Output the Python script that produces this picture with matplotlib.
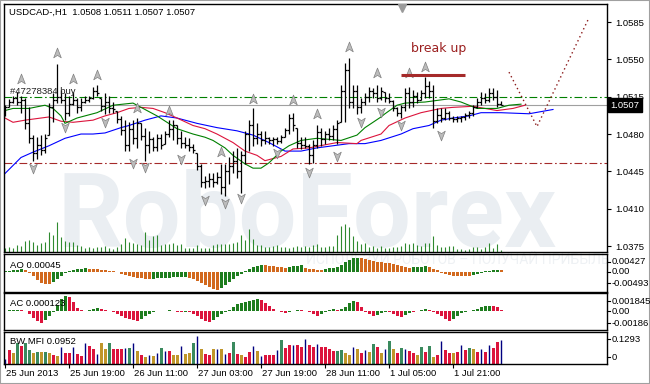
import numpy as np
import matplotlib.pyplot as plt
from matplotlib.path import Path
import matplotlib.transforms as mtransforms

W, H = 650, 384

# ---- USDCAD H1, bar 0 = 25 Jun 2013 00:00 ----
high = [1.0507, 1.0513, 1.0516, 1.0519, 1.0516, 1.0514, 1.0505, 1.0479, 1.0477, 1.0479,
        1.0480, 1.0509, 1.0518, 1.0546, 1.0521, 1.0518, 1.0516, 1.0519, 1.0514, 1.0514,
        1.0516, 1.0516, 1.0524, 1.0526, 1.0514, 1.0518, 1.0516, 1.0510, 1.0502, 1.0497,
        1.0493, 1.0491, 1.0493, 1.0495, 1.0490, 1.0486, 1.0483, 1.0477, 1.0480, 1.0480,
        1.0483, 1.0493, 1.0493, 1.0488, 1.0483, 1.0477, 1.0476, 1.0471, 1.0462, 1.0452,
        1.0441, 1.0443, 1.0443, 1.0444, 1.0452, 1.0452, 1.0458, 1.0464, 1.0467, 1.0464,
        1.0483, 1.0493, 1.0504, 1.0490, 1.0483, 1.0483, 1.0477, 1.0477, 1.0477, 1.0479,
        1.0486, 1.0499, 1.0500, 1.0486, 1.0477, 1.0477, 1.0471, 1.0474, 1.0488, 1.0486,
        1.0483, 1.0486, 1.0488, 1.0493, 1.0526, 1.0547, 1.0551, 1.0526, 1.0526, 1.0514,
        1.0518, 1.0524, 1.0523, 1.0526, 1.0524, 1.0519, 1.0518, 1.0512, 1.0505, 1.0507,
        1.0523, 1.0524, 1.0521, 1.0519, 1.0521, 1.0533, 1.0530, 1.0526, 1.0504, 1.0504,
        1.0504, 1.0502, 1.0497, 1.0497, 1.0497, 1.0500, 1.0502, 1.0507, 1.0514, 1.0519,
        1.0518, 1.0523, 1.0523, 1.0521, 1.0511]
low = [1.0497, 1.0505, 1.0509, 1.0507, 1.0500, 1.0485, 1.0472, 1.0455, 1.0457, 1.0460,
       1.0462, 1.0479, 1.0491, 1.0509, 1.0509, 1.0493, 1.0497, 1.0507, 1.0500, 1.0502,
       1.0509, 1.0510, 1.0513, 1.0516, 1.0502, 1.0499, 1.0500, 1.0500, 1.0490, 1.0479,
       1.0464, 1.0464, 1.0471, 1.0467, 1.0474, 1.0455, 1.0462, 1.0464, 1.0464, 1.0466,
       1.0471, 1.0477, 1.0474, 1.0471, 1.0467, 1.0467, 1.0464, 1.0462, 1.0446, 1.0430,
       1.0429, 1.0430, 1.0430, 1.0433, 1.0424, 1.0422, 1.0433, 1.0443, 1.0439, 1.0425,
       1.0452, 1.0464, 1.0469, 1.0471, 1.0469, 1.0471, 1.0471, 1.0469, 1.0471, 1.0472,
       1.0477, 1.0480, 1.0483, 1.0467, 1.0466, 1.0467, 1.0452, 1.0453, 1.0467, 1.0469,
       1.0471, 1.0474, 1.0474, 1.0471, 1.0491, 1.0491, 1.0504, 1.0504, 1.0499, 1.0500,
       1.0507, 1.0510, 1.0514, 1.0510, 1.0512, 1.0510, 1.0509, 1.0502, 1.0497, 1.0495,
       1.0502, 1.0504, 1.0505, 1.0509, 1.0512, 1.0514, 1.0514, 1.0486, 1.0490, 1.0491,
       1.0493, 1.0493, 1.0491, 1.0491, 1.0491, 1.0493, 1.0495, 1.0497, 1.0504, 1.0507,
       1.0509, 1.0510, 1.0512, 1.0505, 1.0507]
close = [1.0505, 1.0510, 1.0514, 1.0510, 1.0512, 1.0490, 1.0476, 1.0462, 1.0470, 1.0465,
         1.0476, 1.0505, 1.0512, 1.0515, 1.0512, 1.0500, 1.0508, 1.0512, 1.0505, 1.0510,
         1.0512, 1.0514, 1.0520, 1.0518, 1.0506, 1.0510, 1.0504, 1.0503, 1.0494, 1.0484,
         1.0470, 1.0485, 1.0476, 1.0490, 1.0478, 1.0470, 1.0475, 1.0468, 1.0476, 1.0470,
         1.0480, 1.0485, 1.0488, 1.0476, 1.0472, 1.0470, 1.0468, 1.0465, 1.0450, 1.0435,
         1.0436, 1.0438, 1.0435, 1.0440, 1.0430, 1.0445, 1.0450, 1.0455, 1.0445, 1.0460,
         1.0480, 1.0488, 1.0476, 1.0480, 1.0474, 1.0476, 1.0474, 1.0475, 1.0473, 1.0477,
         1.0484, 1.0495, 1.0488, 1.0472, 1.0470, 1.0469, 1.0460, 1.0470, 1.0482, 1.0475,
         1.0480, 1.0478, 1.0485, 1.0490, 1.0520, 1.0540, 1.0510, 1.0520, 1.0505, 1.0510,
         1.0515, 1.0520, 1.0518, 1.0514, 1.0520, 1.0514, 1.0511, 1.0504, 1.0500, 1.0505,
         1.0518, 1.0510, 1.0516, 1.0512, 1.0518, 1.0525, 1.0520, 1.0492, 1.0498, 1.0495,
         1.0500, 1.0495, 1.0494, 1.0495, 1.0496, 1.0498, 1.0500, 1.0505, 1.0510, 1.0514,
         1.0512, 1.0518, 1.0515, 1.0508, 1.0507]
first_open = 1.0500

volume = [400, 500, 400, 700, 600, 1100, 1200, 1000, 700, 900,
          1000, 2000, 1700, 3000, 1500, 1100, 1000, 1000, 700, 600,
          400, 500, 400, 500, 500, 600, 400, 300, 500, 800,
          1400, 1000, 900, 800, 700, 2000, 1200, 1600, 1700, 700,
          800, 800, 900, 700, 800, 400, 400, 400, 700, 400,
          400, 400, 700, 800, 800, 800, 800, 900, 1000, 1700,
          1200, 2300, 1300, 700, 700, 500, 500, 600, 700, 500,
          500, 400, 500, 600, 500, 600, 500, 700, 800, 500,
          500, 600, 600, 1700, 2600, 2800, 2500, 1600, 1100, 800,
          900, 500, 600, 400, 600, 400, 400, 500, 500, 600,
          900, 800, 900, 700, 600, 900, 950, 1600, 700, 500,
          500, 600, 600, 300, 300, 200, 300, 500, 500, 300,
          500, 900, 400, 800, 200]

# alligator-style lines (bar, price)
jaw_bar = [0, 4, 7, 11, 15, 19, 22, 25, 29, 31, 35, 39, 43, 48, 53, 58, 62, 66, 70, 74,
           78, 82, 86, 90, 94, 99, 102, 106, 109, 112, 116, 119, 124, 131, 137]
jaw = [1.0443, 1.0458, 1.0463, 1.0469, 1.0476, 1.0480, 1.0480, 1.0481, 1.0486, 1.0488,
       1.0493, 1.0497, 1.0495, 1.0490, 1.0486, 1.0483, 1.0479, 1.0472, 1.0464, 1.0464,
       1.0467, 1.0469, 1.0471, 1.0471, 1.0474, 1.0480, 1.0485, 1.0488, 1.0493, 1.0495,
       1.0497, 1.0500, 1.0500, 1.0499, 1.0503]
teeth_bar = [0, 2, 5, 9, 11, 14, 17, 22, 25, 28, 31, 34, 37, 40, 43, 47, 50, 53, 57, 60,
             63, 65, 69, 72, 76, 83, 88, 89, 94, 96, 100, 104, 109, 112, 117, 120, 123, 127, 130]
teeth = [1.0495, 1.0491, 1.0493, 1.0495, 1.0496, 1.0492, 1.0491, 1.0493, 1.0497, 1.0500,
         1.0504, 1.0505, 1.0504, 1.0500, 1.0495, 1.0488, 1.0485, 1.0480, 1.0472, 1.0464,
         1.0460, 1.0455, 1.0459, 1.0466, 1.0467, 1.0472, 1.0471, 1.0474, 1.0480, 1.0488,
         1.0495, 1.0500, 1.0504, 1.0505, 1.0506, 1.0504, 1.0502, 1.0504, 1.0507]
lips_bar = [0, 2, 6, 10, 12, 14, 15, 18, 23, 27, 32, 34, 38, 43, 47, 50, 52, 55, 57, 60,
            62, 64, 66, 69, 71, 74, 78, 84, 88, 90, 94, 95, 98, 100, 105, 111, 114, 118, 123, 126, 129]
lips = [1.0502, 1.0504, 1.0504, 1.0507, 1.0504, 1.0497, 1.0490, 1.0495, 1.0500, 1.0507,
        1.0509, 1.0505, 1.0497, 1.0485, 1.0480, 1.0477, 1.0474, 1.0467, 1.0460, 1.0452,
        1.0448, 1.0448, 1.0453, 1.0464, 1.0469, 1.0474, 1.0476, 1.0474, 1.0479, 1.0486,
        1.0496, 1.0499, 1.0507, 1.0509, 1.0510, 1.0513, 1.0510, 1.0504, 1.0504, 1.0507, 1.0508]

frac_up_bar = [4, 13, 17, 23, 33, 41, 54, 62, 72, 78, 86, 93, 101, 105]
frac_up = [1.0532, 1.0556, 1.0532, 1.0535, 1.0504, 1.0502, 1.0463, 1.0513, 1.0512, 1.0499,
           1.0562, 1.0537, 1.0537, 1.0543]
frac_dn_bar = [7, 15, 25, 32, 35, 44, 50, 55, 59, 68, 76, 83, 89, 94, 99, 109]
frac_dn = [1.0448, 1.0487, 1.0491, 1.0453, 1.0449, 1.0457, 1.0418, 1.0415, 1.0420, 1.0462,
           1.0444, 1.0459, 1.0491, 1.0501, 1.0488, 1.0479]

buy_level = 1.0515
stop_level = 1.0453
bid = 1.0507
break_bars = [99, 115]
break_level = 1.0535
path_bar = [126, 133, 146]
path_price = [1.0538, 1.0487, 1.0589]
price_ticks = [1.0585, 1.0550, 1.0515, 1.0480, 1.0445, 1.0410, 1.0375]

# Awesome oscillator, g = rising, o = falling
ao = [0.00012, 0.00024, 0.00029, 0.00048, 0.00061, 0.00036,
      -0.00024, -0.00097, -0.00194, -0.00266, -0.00290, -0.00303,
      -0.00242, -0.00169, -0.00097, -0.00036, 0.00024, 0.00048, 0.00061, 0.00073, 0.00077,
      0.00073, 0.00068, 0.00061, 0.00048, 0.00036, 0.00024, 0.00012, -0.00012,
      -0.00048, -0.00073, -0.00097, -0.00121, -0.00145, -0.00157, -0.00169, -0.00182,
      -0.00169, -0.00165, -0.00157, -0.00152, -0.00145, -0.00140, -0.00136, -0.00133, -0.00128,
      -0.00145, -0.00182, -0.00218, -0.00266, -0.00315, -0.00363, -0.00411, -0.00436,
      -0.00387, -0.00315, -0.00242, -0.00169, -0.00097, -0.00048, 0.00012, 0.00073, 0.00121,
      0.00145, 0.00169,
      0.00157, 0.00145, 0.00133, 0.00121, 0.00109, 0.00097,
      0.00121, 0.00133, 0.00145, 0.00157,
      0.00097, 0.00073, 0.00061, 0.00048, 0.00044,
      0.00073, 0.00085, 0.00097, 0.00109, 0.00169, 0.00230, 0.00290, 0.00327, 0.00339,
      0.00327, 0.00315, 0.00290, 0.00266, 0.00242, 0.00230, 0.00218, 0.00206, 0.00194,
      0.00169, 0.00145, 0.00121, 0.00097,
      0.00104, 0.00111, 0.00121, 0.00126,
      0.00109, 0.00073, 0.00036, -0.00024, -0.00061, -0.00085, -0.00097, -0.00102,
      -0.00104, -0.00104, -0.00106,
      -0.00085, -0.00048, -0.00024, 0.00007, 0.00019, 0.00029, 0.00046,
      0.00045]
ao_col = ("gggggo" "oooooo" "ggggggggg" "oooooooo" "oooooooo" "ggggggggg" "oooooooo"
          "ggggggggggg" "oooooo" "gggg" "ooooo" "ggggggggg" "ooooooooooooo" "gggg"
          "ooooooooooo" "ggggggg" "o")

# Accelerator oscillator, g = rising, r = falling
ac = [0.00005, 0.00010, 0.00010, 0.00015, 0.00010, 0.00005,
      -0.00030, -0.00070, -0.00100, -0.00120,
      -0.00090, -0.00050, -0.00010,
      0.00060, 0.00120, 0.00150,
      0.00140, 0.00090, 0.00030, 0.00010,
      0.00005, 0.00010, 0.00020, 0.00030,
      0.00020, 0.00010, 0.00005, -0.00010, -0.00030, -0.00050, -0.00070, -0.00080, -0.00090, -0.00100,
      -0.00080, -0.00050, -0.00030, -0.00010, 0.00005,
      0.00003, 0.00005, 0.00010, 0.00005, -0.00005, -0.00010, -0.00005, -0.00010,
      -0.00030, -0.00050, -0.00080, -0.00100, -0.00110,
      -0.00090, -0.00060, -0.00030, -0.00010, 0.00010, 0.00040, 0.00070, 0.00080, 0.00090, 0.00100, 0.00110, 0.00120,
      0.00110, 0.00080, 0.00050, 0.00020, 0.00005, -0.00010, -0.00020,
      -0.00010, 0.00005, 0.00015,
      0.00010, 0.00005, -0.00010, -0.00030, -0.00050,
      -0.00030, -0.00010, 0.00010, 0.00020,
      0.00010,
      0.00020, 0.00040, 0.00080, 0.00100,
      0.00090, 0.00040, -0.00010, -0.00030, -0.00050,
      -0.00040, -0.00020, -0.00010,
      -0.00010, -0.00030, -0.00050, -0.00060,
      -0.00040, -0.00020,
      -0.00010,
      0.00005, 0.00010, 0.00020,
      0.00010, -0.00010, -0.00030, -0.00050, -0.00080, -0.00100,
      -0.00080, -0.00050, -0.00020, -0.00010, 0.00005, 0.00010, 0.00020, 0.00040, 0.00050, 0.00055,
      0.00050, 0.00040, 0.000123]
ac_col = ("ggggrr" "rrrr" "ggg" "ggg" "rrrr" "gggg" "rrrrrrrrrr" "ggggg" "rggrrrgr" "rrrrr"
          "gggggggggggg" "rrrrrrr" "ggg" "rrrrr" "gggg" "r" "gggg" "rrrrr" "ggg" "rrrr" "gg" "r"
          "ggg" "rrrrrr" "gggggggggg" "rrr")

# Market facilitation index; g/c/y/n = green, crimson, gold, navy
mfi = [0.0202, 0.0566, 0.0444, 0.0848, 0.0727, 0.0848, 0.0566, 0.0444, 0.0485, 0.0485,
       0.0485, 0.0444, 0.0364, 0.0323, 0.0687, 0.0444, 0.0444, 0.0687, 0.0404, 0.0323,
       0.0848, 0.0727, 0.0606, 0.0404, 0.0848, 0.0606, 0.0848, 0.0606, 0.0606, 0.0606,
       0.0646, 0.0646, 0.0848, 0.0525, 0.0364, 0.0283, 0.0364, 0.0323, 0.0444, 0.0646,
       0.0525, 0.0525, 0.0364, 0.0364, 0.0727, 0.0404, 0.0444, 0.0848, 0.1131, 0.0606,
       0.0404, 0.0364, 0.0606, 0.0606, 0.0606, 0.0404, 0.0444, 0.0889, 0.0404, 0.0364,
       0.0283, 0.0485, 0.0727, 0.0525, 0.0323, 0.0364, 0.0364, 0.0364, 0.0566, 0.0970,
       0.0646, 0.0768, 0.0768, 0.0768, 0.0687, 0.1010, 0.0768, 0.0687, 0.0808, 0.0687,
       0.0687, 0.0606, 0.0525, 0.0525, 0.0566, 0.0444, 0.0364, 0.0687, 0.0606, 0.0444,
       0.0566, 0.0485, 0.0808, 0.0687, 0.0444, 0.0606, 0.0929, 0.0606, 0.0444, 0.0646,
       0.0606, 0.0525, 0.0444, 0.0364, 0.0687, 0.0485, 0.0727, 0.0283, 0.0364, 0.0929,
       0.0566, 0.0444, 0.0444, 0.0485, 0.0768, 0.0566, 0.0646, 0.0606, 0.0485, 0.0606,
       0.0485, 0.0768, 0.0646, 0.0889, 0.0952]
mfi_col = ("ncygcggygy" "gycynccncc" "nccnyygccc" "ngnycynyng" "ncyynyygny" "ccynyncgcy"
           "ccnyncccng" "ccnccnccnc" "cccggyynyc" "nygcyngycg" "nccygcgycn" "ccycncgycn" "cnccn")

date_bars = [0, 16, 32, 48, 64, 80, 96, 112]
date_labels = ['25 Jun 2013', '25 Jun 19:00', '26 Jun 11:00', '27 Jun 03:00',
               '27 Jun 19:00', '28 Jun 11:00', '1 Jul 05:00', '1 Jul 21:00']

n = len(high)
x = np.arange(n)
open_ = np.clip(np.r_[first_open, close[:-1]], low, high)

FS = 6.8
XL = (-0.25, 150.5)
plt.rcParams['font.family'] = ['Liberation Sans', 'DejaVu Sans']


def box(x0, y0, x1, y1):
    return [x0 / W, 1 - y1 / H, (x1 - x0) / W, (y1 - y0) / H]


fig = plt.figure(figsize=(W / 100, H / 100), dpi=100, facecolor='white')

# background watermark
fig.text(58 / W, 1 - 247 / H, 'RoboForex', color='#eaeef2', fontsize=74, fontweight='bold',
         family=['Roboto', 'DejaVu Sans'], ha='left', va='baseline', zorder=-5)
fig.text(306 / W, 1 - 260 / H, 'ИСПОЛЬЗУЙ РОБОТОВ – ПОЛУЧАЙ ПРИБЫЛЬ', color='#eef1f4',
         fontsize=10, family=['Roboto', 'DejaVu Sans'], ha='left', va='center', zorder=-5)

ax = fig.add_axes(box(4, 4, 607, 252))
ao_ax = fig.add_axes(box(4, 254, 607, 292), sharex=ax)
ac_ax = fig.add_axes(box(4, 293, 607, 330), sharex=ax)
mfi_ax = fig.add_axes(box(4, 332, 607, 364), sharex=ax)

for a in (ax, ao_ax, ac_ax, mfi_ax):
    a.set_facecolor('none')
    for s in a.spines.values():
        s.set_linewidth(1.0)
        s.set_color('black')
    a.tick_params(axis='y', which='both', left=False, right=False, labelleft=False, labelright=False)
    a.tick_params(axis='x', which='both', bottom=False, top=False, labelbottom=False)
ax.set_xlim(*XL)

# ---- main chart ----
ax.set_ylim(1.03694, 1.06019)
ax.yaxis.tick_right()
ax.set_yticks(price_ticks)
ax.set_yticklabels([f'{p:.4f}' for p in price_ticks])
ax.tick_params(axis='y', right=True, labelright=True, length=3, width=0.8, pad=3,
               labelsize=FS, direction='out')

vol_tr = mtransforms.blended_transform_factory(ax.transData, ax.transAxes)
ax.vlines(x, 0, np.array(volume) / 24800, transform=vol_tr, color='#2f8a2f', lw=0.8, zorder=1)

ax.axhline(bid, color='#a0a0a0', lw=0.8, zorder=1.5)
ax.axhline(buy_level, color='#008000', lw=0.8, dashes=(7, 2.5, 1.5, 2.5), zorder=1.5)
ax.axhline(stop_level, color='#a52a2a', lw=0.8, dashes=(7, 2.5, 1.5, 2.5), zorder=1.5)

ax.plot(jaw_bar, jaw, color='#0000ff', lw=0.8, zorder=2)
ax.plot(teeth_bar, teeth, color='#dc143c', lw=0.8, zorder=2)
ax.plot(lips_bar, lips, color='#008000', lw=0.8, zorder=2)

ax.vlines(x, low, high, color='black', lw=0.9, zorder=3)
ax.hlines(open_, x - 0.45, x, color='black', lw=0.9, zorder=3)
ax.hlines(close, x, x + 0.45, color='black', lw=0.9, zorder=3)

up_arrow = Path([(0, 1), (0.7, -0.8), (0, -0.35), (-0.7, -0.8), (0, 1)],
                [Path.MOVETO, Path.LINETO, Path.LINETO, Path.LINETO, Path.CLOSEPOLY])
dn_arrow = Path([(0, -1), (0.7, 0.8), (0, 0.35), (-0.7, 0.8), (0, -1)],
                [Path.MOVETO, Path.LINETO, Path.LINETO, Path.LINETO, Path.CLOSEPOLY])
ax.plot(frac_up_bar, frac_up, ls='none', marker=up_arrow, ms=7.8, mfc='#bcbcbc',
        mec='#808080', mew=0.5, zorder=4)
ax.plot(frac_dn_bar, frac_dn, ls='none', marker=dn_arrow, ms=7.8, mfc='#bcbcbc',
        mec='#808080', mew=0.5, zorder=4)

ax.hlines(break_level, break_bars[0], break_bars[1], color='#a52a2a', lw=2.2, zorder=5)
ax.text(101.5, 1.05606, 'break up', color='#9b1f1f', fontsize=9, family=['DejaVu Sans'],
        ha='left', va='center', zorder=5)
ax.plot(path_bar, path_price, color='#8b1a1a', lw=1.0, ls=(0, (1, 2.2)), zorder=5, clip_on=False)
ax.text(1.3, buy_level + 0.0001, '#47278384 buy', fontsize=FS, color='#202020',
        ha='left', va='bottom', zorder=5)

top_tr = mtransforms.blended_transform_factory(ax.transData, ax.transAxes)
ax.plot([99.3], [0.985], transform=top_tr, marker='v', ms=6, mfc='#9a9a9a', mec='#9a9a9a', zorder=6)

ax.text(0.0083, 0.968, 'USDCAD-,H1  1.0508 1.0511 1.0507 1.0507', transform=ax.transAxes,
        fontsize=FS, ha='left', va='center', color='black', zorder=6)

# bid tag
ax.text(1.006, bid, '1.0507', transform=mtransforms.blended_transform_factory(ax.transAxes, ax.transData),
        fontsize=FS, color='white', ha='left', va='center', zorder=7, clip_on=False,
        bbox=dict(boxstyle='square,pad=0.25', fc='black', ec='black'))

# ---- AO ----
ao_ax.set_ylim(-0.00493, 0.00427)
ao_ax.bar(x, ao, width=0.75, color=['#1e7d1e' if c == 'g' else '#d2691e' for c in ao_col], zorder=2)
ao_ax.text(0.01, 0.70, 'AO 0.00045', transform=ao_ax.transAxes, fontsize=FS, ha='left', va='center')

# ---- AC ----
ac_ax.set_ylim(-0.00186, 0.001845)
ac_ax.bar(x, ac, width=0.75, color=['#1e7d1e' if c == 'g' else '#dc143c' for c in ac_col], zorder=2)
ac_ax.text(0.01, 0.716, 'AC 0.000123', transform=ac_ax.transAxes, fontsize=FS, ha='left', va='center')

# ---- BW MFI ----
mfi_ax.set_ylim(0, 0.1293)
cmap = {'g': '#3a8a5e', 'c': '#dc143c', 'y': '#c0962a', 'n': '#000080'}
mfi_arr = np.array(mfi)
is_navy = np.array([c == 'n' for c in mfi_col])
wide = ~is_navy
mfi_ax.bar(x[wide], mfi_arr[wide], width=0.75, color=[cmap[c] for c in mfi_col if c != 'n'], zorder=2)
mfi_ax.vlines(x[is_navy], 0, mfi_arr[is_navy], color='#000080', lw=1.0, zorder=2)
mfi_ax.text(0.01, 0.70, 'BW MFI 0.0952', transform=mfi_ax.transAxes, fontsize=FS, ha='left', va='center')

# sub-window scale labels (pixel rows read from the terminal)
for txt, yy in [('0.00427', 262), ('0.00', 272), ('-0.00493', 283),
                ('0.001845', 301), ('0.00', 311), ('-0.00186', 323),
                ('0.1293', 339), ('0', 357)]:
    fig.text(612 / W, 1 - yy / H, txt, fontsize=FS, ha='left', va='center')
    fig.lines.append(plt.Line2D([607 / W, 610 / W], [1 - yy / H, 1 - yy / H],
                                transform=fig.transFigure, color='black', lw=0.8))

# dates
mfi_ax.set_xticks(date_bars)
mfi_ax.set_xticklabels([])
mfi_ax.tick_params(axis='x', bottom=True, length=3, width=0.8, direction='out')
for b, lab in zip(date_bars, date_labels):
    mfi_ax.annotate(lab, xy=(b, 0), xycoords=('data', 'axes fraction'), xytext=(1.5, -5),
                    textcoords='offset pixels', fontsize=FS, ha='left', va='top')

# window frame
fig.patches.append(plt.Rectangle((0, 0), 1, 1, transform=fig.transFigure, fill=False,
                                 ec='#a0a0a0', lw=1.5))

fig.savefig('out.png', dpi=100, facecolor='white')
